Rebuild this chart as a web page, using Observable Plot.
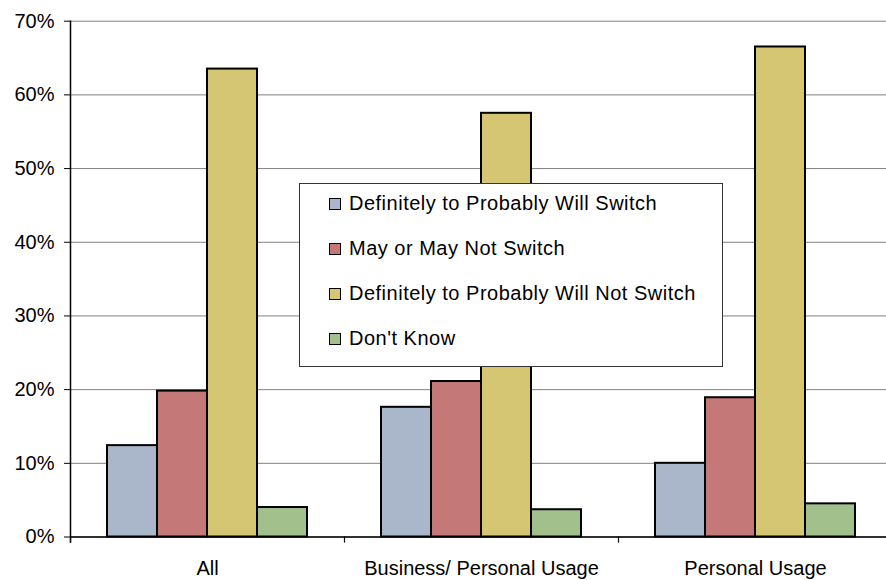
<!DOCTYPE html>
<html>
<head>
<meta charset="utf-8">
<script src="https://cdn.jsdelivr.net/npm/d3@7"></script>
<script src="https://cdn.jsdelivr.net/npm/@observablehq/plot@0.6"></script>
<style>
  html, body { margin: 0; padding: 0; background: #fff; }
  #chart { position: relative; width: 886px; height: 580px; overflow: hidden; font-family: "Liberation Sans", Arial, sans-serif; }
  #chart svg { display: block; }
  #legend { position: absolute; left: 299px; top: 183px; width: 422px; height: 182px; border: 1px solid #333; background: #fff; }
  #legend .item { display: flex; align-items: center; height: 45px; padding-left: 29px; font-size: 20px; letter-spacing: 0.5px; color: #000; white-space: nowrap; }
  #legend .item:first-child { margin-top: -3px; }
  #legend .sw { width: 10px; height: 10px; border: 1.5px solid #000; margin-right: 8px; flex: none; }
</style>
</head>
<body>
<div id="chart"></div>
<script>
// Respondent groups along the x axis
const groups = ["All", "Business/ Personal Usage", "Personal Usage"];

// Switching intention categories (one bar each per group)
const series = [
  "Definitely to Probably Will Switch",
  "May or May Not Switch",
  "Definitely to Probably Will Not Switch",
  "Don't Know"
];
const seriesColors = ["#aab7ca", "#c47878", "#d4c672", "#a2c08b"];

// Percent of respondents, in series order
const allValues = [12.4, 19.8, 63.5, 4.0];
const businessPersonalValues = [17.6, 21.1, 57.5, 3.7];
const personalValues = [10.0, 18.9, 66.5, 4.5];

const yTicks = [0, 10, 20, 30, 40, 50, 60, 70];

const valuesByGroup = [allValues, businessPersonalValues, personalValues];
const rows = groups.flatMap((g, gi) =>
  series.map((s, si) => ({group: g, series: s, value: valuesByGroup[gi][si]}))
);

const chart = Plot.plot({
  width: 886,
  height: 580,
  marginTop: 20.7,
  marginBottom: 43.5,
  marginLeft: 69,
  marginRight: -7,
  style: {
    fontFamily: "'Liberation Sans', Arial, sans-serif",
    fontSize: "20px",
    color: "#000",
    background: "white",
    overflow: "visible"
  },
  fx: {domain: groups, padding: 0, label: null, axis: null},
  x: {domain: series, paddingInner: 0, paddingOuter: 0.72, axis: null},
  y: {domain: [0, 70], axis: null},
  color: {domain: series, range: seriesColors},
  marks: [
    Plot.gridY(yTicks, {stroke: "#808080", strokeOpacity: 1, strokeWidth: 1}),
    Plot.barY(rows, {
      fx: "group",
      x: "series",
      y: "value",
      fill: "series",
      stroke: "#000",
      strokeWidth: 2,
      inset: 0
    }),
    Plot.ruleY([0], {stroke: "#000", strokeWidth: 1.5}),
    // tick marks at the category boundaries, below the baseline
    Plot.frame({anchor: "left", stroke: "#000", strokeWidth: 1.2, insetTop: 515.8, insetBottom: -5}),
    // value axis line
    Plot.frame({anchor: "left", stroke: "#000", strokeWidth: 1.5, insetBottom: -5, facet: "super"}),
    Plot.axisY({
      ticks: yTicks,
      tickFormat: d => d + "%",
      tickSize: 6,
      tickPadding: 10,
      fontSize: 20,
      stroke: "#000",
      label: null
    }),
    Plot.axisFx({anchor: "bottom", tickSize: 0, tickPadding: 24, fontSize: 20, label: null})
  ]
});

const container = document.getElementById("chart");
container.appendChild(chart);

// Legend box drawn over the plot area
const legend = document.createElement("div");
legend.id = "legend";
series.forEach((s, i) => {
  const item = document.createElement("div");
  item.className = "item";
  const sw = document.createElement("span");
  sw.className = "sw";
  sw.style.background = seriesColors[i];
  const label = document.createElement("span");
  label.textContent = s;
  item.appendChild(sw);
  item.appendChild(label);
  legend.appendChild(item);
});
container.appendChild(legend);
</script>
</body>
</html>
